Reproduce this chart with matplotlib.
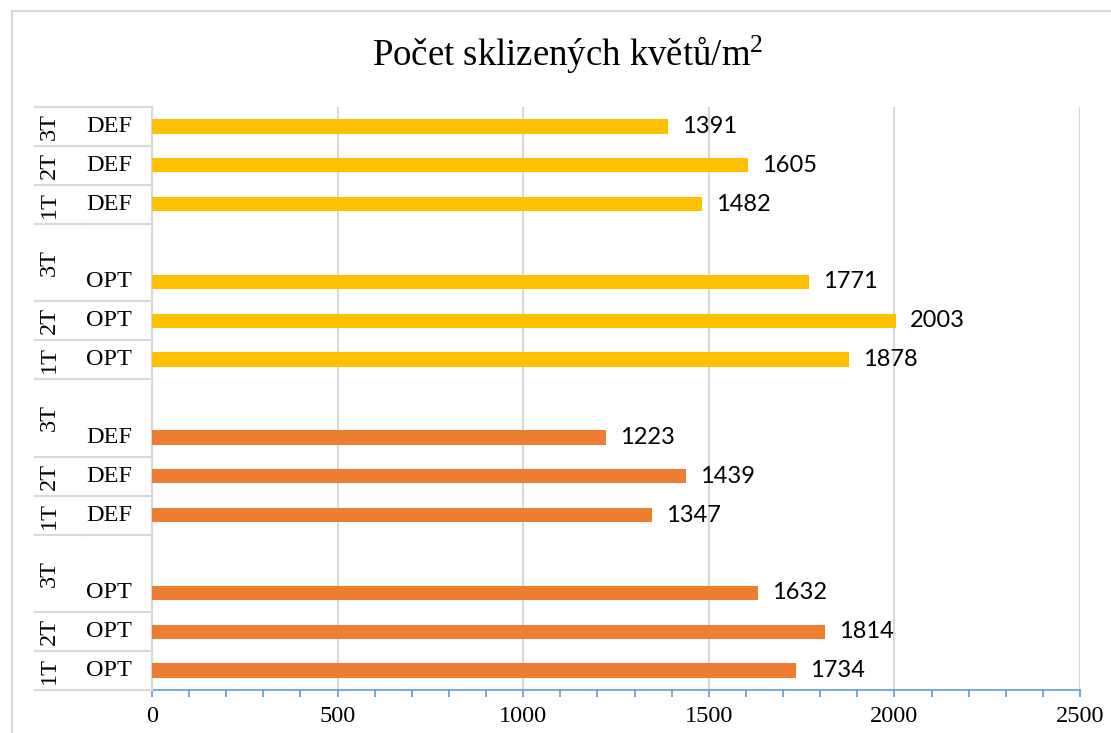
import matplotlib
matplotlib.use("Agg")
import matplotlib.pyplot as plt
from matplotlib.lines import Line2D
from matplotlib.ticker import MultipleLocator

plt.rcParams['font.family'] = ['Liberation Serif', 'DejaVu Serif']
plt.rcParams['mathtext.fontset'] = 'custom'
plt.rcParams['mathtext.rm'] = 'Liberation Serif'
plt.rcParams['mathtext.it'] = 'Liberation Serif'
plt.rcParams['mathtext.bf'] = 'Liberation Serif'

# ---- data (bottom to top) ----
title = "Počet sklizených květů/m$^{2}$"
terms = ["1T", "2T", "3T"]
groups = ["OPT", "DEF", "OPT", "DEF"]
orange_opt = [1734, 1814, 1632]
orange_def = [1347, 1439, 1223]
gold_opt = [1878, 2003, 1771]
gold_def = [1482, 1605, 1391]
series = [orange_opt, orange_def, gold_opt, gold_def]
group_colors = ["#ED7D31", "#ED7D31", "#FFC000", "#FFC000"]
x_max = 2500
x_ticks = [0, 500, 1000, 1500, 2000, 2500]

W, H = 1111, 733
fig = plt.figure(figsize=(W / 100, H / 100), dpi=100)
ax = fig.add_axes([152 / W, 1 - 690 / H, (1080 - 152) / W, (690 - 107) / H])

grid_c = "#D9D9D9"
axis_c = "#5B9BD5"
serif = "Liberation Serif"

n_rows = len(groups) * 4 - 1
for g, (vals, col) in enumerate(zip(series, group_colors)):
    ys = [g * 4 + i for i in range(len(terms))]
    bars = ax.barh(ys, vals, height=0.37, color=col, zorder=3)
    ax.bar_label(bars, labels=[str(v) for v in vals], padding=10,
                 fontsize=17, family="Lato", color="black")

ax.set_xlim(0, x_max)
ax.set_ylim(-0.5, n_rows - 0.5)

# grid / axis
ax.set_xticks(x_ticks)
ax.xaxis.set_minor_locator(MultipleLocator(100))
ax.grid(axis="x", which="major", color=grid_c, linewidth=1.5, zorder=0)
for s in ["top", "right"]:
    ax.spines[s].set_visible(False)
ax.spines["left"].set_color(grid_c)
ax.spines["left"].set_linewidth(1.5)
ax.spines["bottom"].set_color(axis_c)
ax.spines["bottom"].set_linewidth(1.2)
ax.tick_params(axis="x", which="both", direction="out", length=5, color=axis_c,
               width=1.2, pad=6.5, labelsize=17.5)
ax.set_yticks([])

inv = fig.transFigure.inverted()

def fy(yd):
    return inv.transform((0, ax.transData.transform((0, yd))[1]))[1]

x_outer = 49 / W
x_inner = 109 / W
for g, grp in enumerate(groups):
    last = g == len(groups) - 1
    for i, t in enumerate(terms):
        yc = g * 4 + i
        fig.text(x_inner, fy(yc), grp, ha="center", va="center",
                 fontsize=17.5, family=serif)
        yo = yc + 0.5 if (i == len(terms) - 1 and not last) else yc
        fig.text(x_outer, fy(yo), t, ha="center", va="center", rotation=90,
                 fontsize=17.5, family=serif)
    # separator lines
    bounds = [g * 4 - 0.5, g * 4 + 0.5, g * 4 + 1.5, g * 4 + 3.5]
    for b in bounds:
        if b > n_rows - 0.5:
            b = n_rows - 0.5
        yy = fy(b)
        fig.add_artist(Line2D([35 / W, 83.5 / W], [yy, yy], color=grid_c, lw=1.5))
        fig.add_artist(Line2D([84.5 / W, 152 / W], [yy, yy], color=grid_c, lw=1.5))

# outer frame
fig.add_artist(Line2D([11.5 / W, 11.5 / W], [0, 1 - 10.5 / H], color=grid_c, lw=1.5))
fig.add_artist(Line2D([11.5 / W, 1], [1 - 10.5 / H, 1 - 10.5 / H], color=grid_c, lw=1.5))

fig.text(0.511, 1 - 66 / H, title, ha="center", va="baseline",
         fontsize=26.5, family=serif)

fig.savefig("out.png", dpi=100)
